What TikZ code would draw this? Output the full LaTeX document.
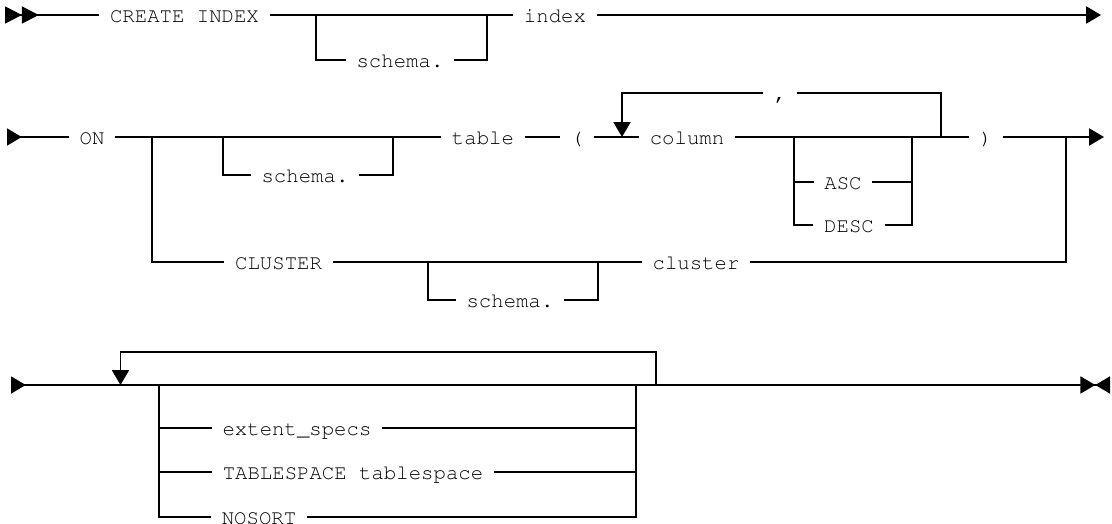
\documentclass[tikz,border=0pt]{standalone}
\usepackage[T1]{fontenc}
\usepackage{tikz}
\usetikzlibrary{arrows.meta}
\newcommand{\railfont}{\fontfamily{pcr}\fontsize{14.7pt}{16pt}\selectfont}
\tikzset{rail/.style={line width=1.5pt}, loopline/.style={line width=1.2pt}, word/.style={font=\railfont,inner xsep=7.5pt,inner ysep=0pt,text height=10.6pt,text depth=0pt}, arr/.style={-{Triangle[length=10.5pt,width=12pt]}}}

\begin{document}
\begin{tikzpicture}[x=0.025cm,y=-0.025cm]
\useasboundingbox (0,0) rectangle (1112,524);
% first line
\coordinate (s1) at (5,15);
\coordinate (j1a) at (316,15);
\coordinate (j1b) at (487,15);
\coordinate (e1) at (1101,15);
\node[word] (create) at (184.5,15) {CREATE INDEX};
\node[word] (schema1) at (400,60) {schema.};
\node[word] (index) at (555,15) {index};
\draw[rail,{Triangle[reversed,length=12pt,width=12pt]Triangle[reversed,length=12pt,width=12pt]}-] (s1) -- (create.west);
\draw[rail] (create.east) -- (index.west);
\draw[rail] (j1a) |- (schema1.west);
\draw[rail] (schema1.east) -| (j1b);
\draw[rail,arr] (index.east) -- (e1);
% second line
\coordinate (s2) at (7,137);
\coordinate (j2a) at (152,137);
\coordinate (j2b) at (223,137);
\coordinate (j2c) at (393,137);
\coordinate (j2d) at (1066,137);
\coordinate (jl) at (622,137);
\coordinate (jc) at (941,137);
\coordinate (ja) at (794,137);
\coordinate (jb) at (912,137);
\coordinate (j3a) at (428,262);
\coordinate (j3b) at (598,262);
\coordinate (e2) at (1104,137);
\node[word] (on) at (92,137) {ON};
\node[word] (schema2) at (305,175) {schema.};
\node[word] (table) at (483,137) {table};
\node[word] (lparen) at (577,137) {(};
\node[word] (column) at (687,137) {column};
\node[word] (comma) at (780,93) {,};
\node[word] (asc) at (843,182) {ASC};
\node[word] (desc) at (849,225) {DESC};
\node[word] (rparen) at (986,137) {)};
\node[word] (clusterkw) at (278.6,262) {CLUSTER};
\node[word] (schema3) at (510,300) {schema.};
\node[word] (clusterid) at (696,262) {cluster};
\draw[rail,{Triangle[reversed,length=10.5pt,width=12pt]}-] (s2) -- (on.west);
\draw[rail] (on.east) -- (table.west);
\draw[rail] (j2b) |- (schema2.west);
\draw[rail] (schema2.east) -| (j2c);
\draw[rail] (table.east) -- (lparen.west);
\draw[rail] (lparen.east) -- (column.west);
\draw[rail] (column.east) -- (rparen.west);
\draw[loopline] (jc) |- (comma.east);
\draw[loopline,arr] (comma.west) -| (jl);
\draw[rail] (ja) |- (desc.west);
\draw[rail] (asc.west) -- (asc.west -| ja);
\draw[rail] (desc.east) -| (jb);
\draw[rail] (asc.east) -- (asc.east -| jb);
\draw[rail,arr] (rparen.east) -- (e2);
\draw[rail] (j2a) |- (clusterkw.west);
\draw[rail] (clusterkw.east) -- (clusterid.west);
\draw[rail] (j3a) |- (schema3.west);
\draw[rail] (schema3.east) -| (j3b);
\draw[rail] (clusterid.east) -| (j2d);
% third line
\coordinate (s3) at (11,385);
\coordinate (e3) at (1110,385);
\coordinate (lj) at (120.5,385);
\coordinate (lt) at (656,352);
\coordinate (lr) at (656,385);
\coordinate (ba) at (159,385);
\coordinate (bb) at (636,385);
\node[word] (extent) at (297,428) {extent\_specs};
\node[word] (tsp) at (353,472) {TABLESPACE tablespace};
\node[word] (nosort) at (259,517) {NOSORT};
\draw[rail,{Triangle[reversed,length=10.5pt,width=12pt]}-{Triangle[length=10.5pt,width=12pt]Triangle[reversed,length=10.5pt,width=12pt]}] (s3) -- (e3);
\draw[loopline,arr] (lr) -- (lt) -| (lj);
\draw[rail] (ba) |- (nosort.west);
\draw[rail] (extent.west) -- (extent.west -| ba);
\draw[rail] (tsp.west) -- (tsp.west -| ba);
\draw[rail] (nosort.east) -| (bb);
\draw[rail] (extent.east) -- (extent.east -| bb);
\draw[rail] (tsp.east) -- (tsp.east -| bb);
\end{tikzpicture}
\end{document}
